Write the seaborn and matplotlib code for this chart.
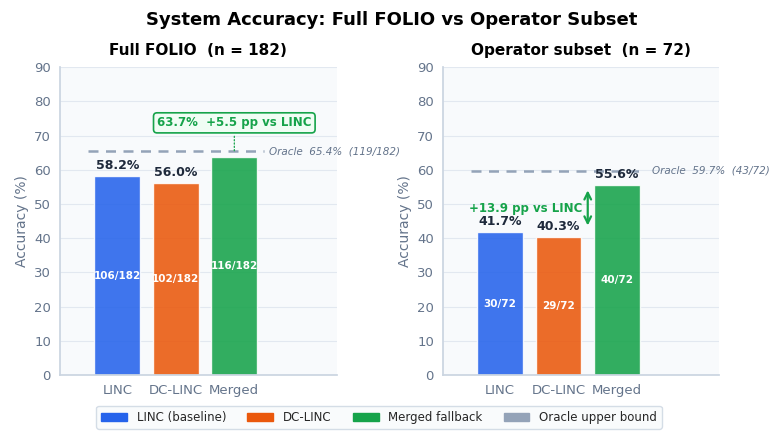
import matplotlib
matplotlib.use("Agg")
import matplotlib.pyplot as plt
import seaborn as sns
import pandas as pd
from matplotlib.patches import Patch

systems = ["LINC", "DC-LINC", "Merged"]
full_acc = [58.2, 56.0, 63.7]
full_counts = ["106/182", "102/182", "116/182"]
full_oracle = 65.4
full_oracle_label = "Oracle  65.4%  (119/182)"
op_acc = [41.7, 40.3, 55.6]
op_counts = ["30/72", "29/72", "40/72"]
op_oracle = 59.7
op_oracle_label = "Oracle  59.7%  (43/72)"
colors = ["#2563eb", "#ea580c", "#16a34a"]
oracle_color = "#94a3b8"
legend_labels = ["LINC (baseline)", "DC-LINC", "Merged fallback", "Oracle upper bound"]

sns.set_theme(style="whitegrid")
plt.rcParams["font.family"] = ["DejaVu Sans"]

fig = plt.figure(figsize=(7.83, 4.44), dpi=100)
ax1 = fig.add_axes([0.0766, 0.155, 0.3534, 0.694])
ax2 = fig.add_axes([0.5658, 0.155, 0.3525, 0.694])

tick_color = "#64748b"
dark = "#1e293b"
green = "#16a34a"

def panel(ax, acc, counts, oracle, oracle_label, title, skip_top=()):
    df = pd.DataFrame({"system": systems, "acc": acc})
    sns.barplot(data=df, x="system", y="acc", hue="system", palette=colors,
                ax=ax, width=0.78, alpha=0.88, legend=False, saturation=1)
    ax.set_facecolor("#f8fafc")
    ax.set_xlim(-0.98, 3.75)
    ax.set_ylim(0, 90)
    ax.set_yticks(range(0, 91, 10))
    ax.grid(axis="y", color="#e2e8f0", linewidth=0.8)
    ax.grid(axis="x", visible=False)
    for s in ["top", "right"]:
        ax.spines[s].set_visible(False)
    for s in ["left", "bottom"]:
        ax.spines[s].set_color("#cbd5e1")
    ax.tick_params(colors=tick_color, labelsize=9.5, length=3)
    ax.set_xlabel("")
    ax.set_ylabel("Accuracy (%)", color=tick_color, fontsize=10)
    ax.set_title(title, fontsize=11, fontweight="bold", pad=9, color="black")
    for i, (v, c) in enumerate(zip(acc, counts)):
        if i not in skip_top:
            ax.text(i, v + 1.2, f"{v:.1f}%", ha="center", va="bottom",
                    fontsize=9, fontweight="bold", color=dark, zorder=6)
        ax.text(i, v / 2, c, ha="center", va="center", fontsize=7.5,
                fontweight="bold", color="white")
    ax.hlines(oracle, -0.5, 2.5, colors=oracle_color, linestyles=(0, (4, 3)),
              linewidth=1.8, zorder=4)
    ax.text(2.6, oracle, oracle_label, ha="left", va="center", fontsize=7.5,
            style="italic", color=tick_color)

panel(ax1, full_acc, full_counts, full_oracle, full_oracle_label,
      "Full FOLIO  (n = 182)", skip_top=(2,))
panel(ax2, op_acc, op_counts, op_oracle, op_oracle_label, "Operator subset  (n = 72)")

# annotation panel 1
gain1 = full_acc[2] - full_acc[0]
ax1.annotate(f"{full_acc[2]:.1f}%  +{gain1:.1f} pp vs LINC", xy=(2, full_acc[2] + 1.5),
             xytext=(2, 73.7), ha="center", va="center", fontsize=8.5,
             fontweight="bold", color=green,
             bbox=dict(boxstyle="round,pad=0.3", fc="#f0fdf4", ec=green, lw=1.2),
             arrowprops=dict(arrowstyle="-", linestyle=":", color=green, lw=0.9,
                             shrinkB=0),
             zorder=6)

# annotation panel 2
gain2 = op_acc[2] - op_acc[0]
ax2.annotate("", xy=(1.5, op_acc[2] - 0.8), xytext=(1.5, op_acc[0] + 1.2),
             arrowprops=dict(arrowstyle="<->", color=green, lw=1.6))
ax2.text(1.4, 48.8, f"+{gain2:.1f} pp vs LINC", ha="right", va="center",
         fontsize=8.5, fontweight="bold", color=green)

handles = [Patch(color=c) for c in colors] + [Patch(color=oracle_color)]
fig.legend(handles, legend_labels, loc="center", bbox_to_anchor=(0.484, 0.06),
           ncol=4, fontsize=8.5, frameon=True, facecolor="#f8fafc",
           edgecolor="#cbd5e1", handlelength=2.2, columnspacing=1.8)

fig.suptitle("System Accuracy: Full FOLIO vs Operator Subset", fontsize=13,
             fontweight="bold", y=0.975, color="black")

fig.savefig("out.png", dpi=100)
